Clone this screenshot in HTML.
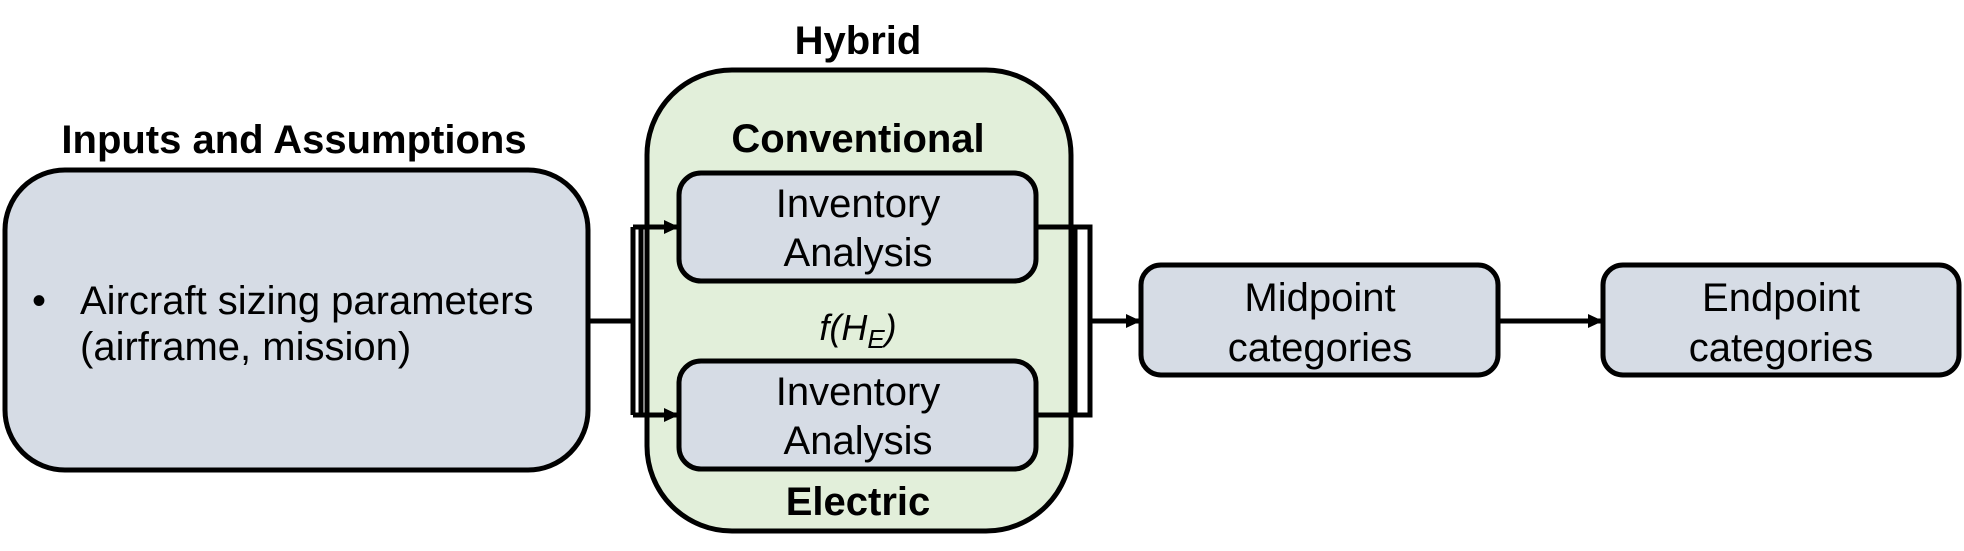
<!DOCTYPE html>
<html><head><meta charset="utf-8"><style>
html,body{margin:0;padding:0;background:#fff}
svg{display:block}
text{font-family:"Liberation Sans",Arial,sans-serif;fill:#000}
.b{font-weight:bold;font-size:40px}
.n{font-size:40px}
</style></head><body>
<svg width="1964" height="551" viewBox="0 0 1964 551" xmlns="http://www.w3.org/2000/svg">
<defs><marker id="a" markerWidth="16" markerHeight="16" refX="14" refY="8" orient="auto" markerUnits="userSpaceOnUse"><path d="M0,1 L15,8 L0,15 z" fill="#000"/></marker></defs>
<text class="b" x="294" y="153" text-anchor="middle">Inputs and Assumptions</text>
<rect x="5" y="170" width="583" height="300" rx="60" fill="#d6dce5" stroke="#000" stroke-width="5"/>
<text class="n" x="32" y="314">•</text>
<text class="n" x="80" y="314">Aircraft sizing parameters</text>
<text class="n" x="80" y="360">(airframe, mission)</text>
<text class="b" x="858" y="54" text-anchor="middle">Hybrid</text>
<rect x="647" y="70" width="424" height="461" rx="85" fill="#e2efda" stroke="#000" stroke-width="5"/>
<text class="b" x="858" y="152" text-anchor="middle">Conventional</text>
<text class="b" x="858" y="515" text-anchor="middle">Electric</text>
<rect x="679" y="173" width="357" height="108" rx="22" fill="#d6dce5" stroke="#000" stroke-width="5"/>
<text class="n" x="858" y="217" text-anchor="middle">Inventory</text>
<text class="n" x="858" y="266" text-anchor="middle">Analysis</text>
<rect x="679" y="361" width="357" height="108" rx="22" fill="#d6dce5" stroke="#000" stroke-width="5"/>
<text class="n" x="858" y="405" text-anchor="middle">Inventory</text>
<text class="n" x="858" y="454" text-anchor="middle">Analysis</text>
<text x="858" y="340" text-anchor="middle" font-family="Liberation Serif,serif" font-style="italic" font-size="36">f(H<tspan font-size="26" dy="8">E</tspan><tspan dy="-8">)</tspan></text>
<g stroke="#000" stroke-width="5" fill="none">
<path d="M588 321 H633"/>
<path d="M633 227 V415 M641 227 V415"/>
<path d="M633 227 H678" marker-end="url(#a)"/>
<path d="M633 415 H678" marker-end="url(#a)"/>
<path d="M1036 227 H1090 V415 H1036"/>
<path d="M1075 227 V415"/>
<path d="M1090 321 H1140" marker-end="url(#a)"/>
<path d="M1499 321 H1602" marker-end="url(#a)"/>
</g>
<rect x="1141" y="265" width="357" height="110" rx="20" fill="#d6dce5" stroke="#000" stroke-width="5"/>
<text class="n" x="1320" y="311" text-anchor="middle">Midpoint</text>
<text class="n" x="1320" y="361" text-anchor="middle">categories</text>
<rect x="1603" y="265" width="356" height="110" rx="20" fill="#d6dce5" stroke="#000" stroke-width="5"/>
<text class="n" x="1781" y="311" text-anchor="middle">Endpoint</text>
<text class="n" x="1781" y="361" text-anchor="middle">categories</text>
</svg>
</body></html>
